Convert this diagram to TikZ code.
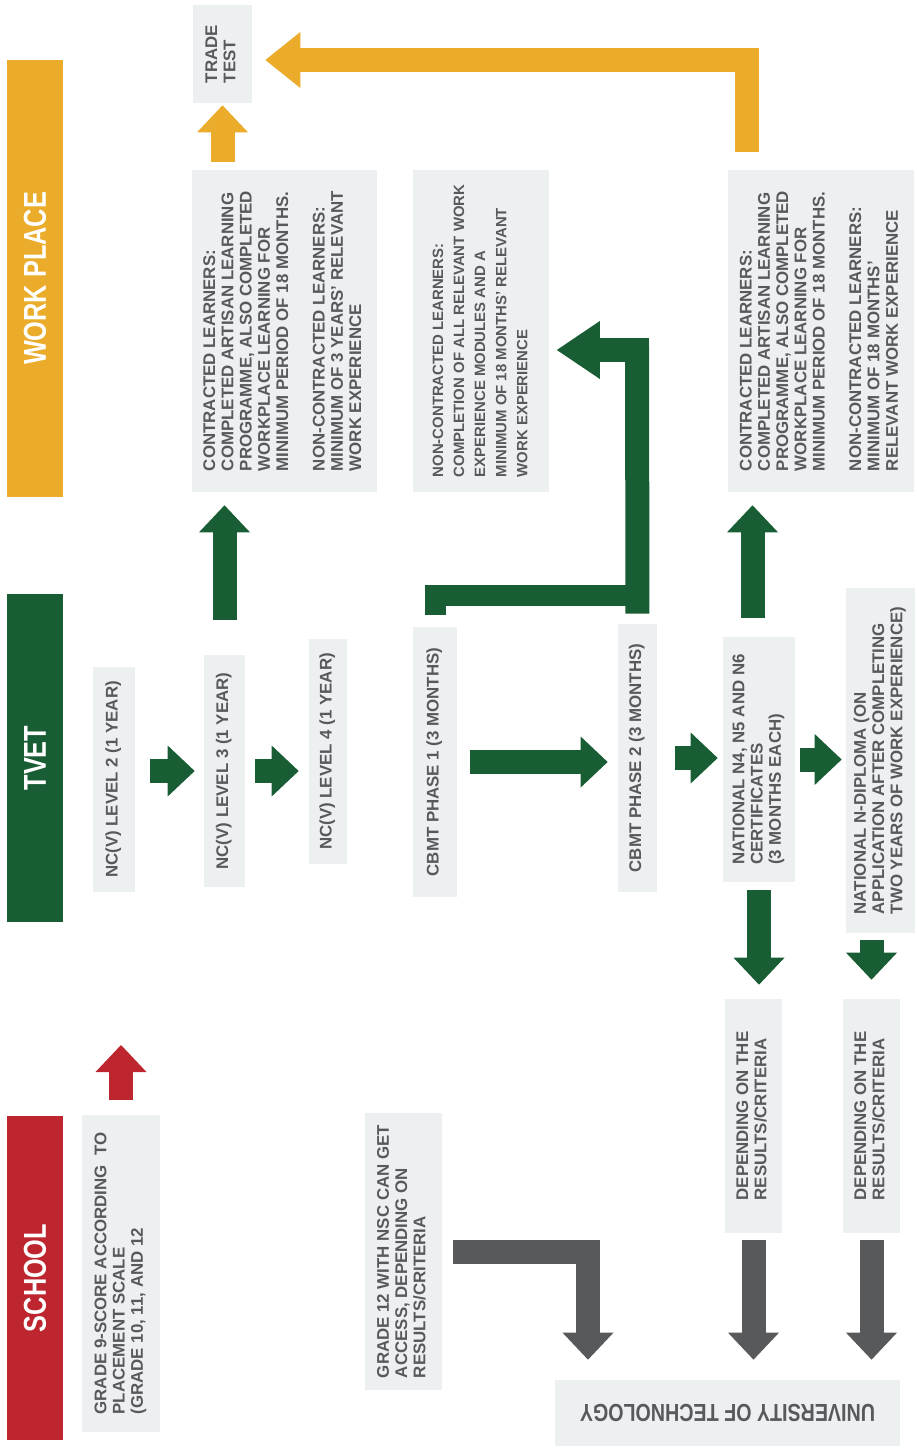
\documentclass[tikz,border=0pt]{standalone}
\usepackage{fontspec}
\setmainfont{Liberation Sans}
\newfontfamily\narrowfont{Liberation Sans}[FakeStretch=0.8]
\usetikzlibrary{arrows.meta}
\definecolor{wpyellow}{HTML}{EAAC2A}
\definecolor{tvetgreen}{HTML}{185D34}
\definecolor{schoolred}{HTML}{BD262E}
\definecolor{boxgray}{HTML}{EDF0F1}
\definecolor{inkgray}{HTML}{58595B}
\newcommand{\vtext}[1]{\rotatebox{90}{\begin{tabular}{@{}l@{}}#1\end{tabular}}}

\begin{document}
\begin{tikzpicture}[x=0.02cm, y=-0.02cm,
banner/.style={fill=#1, text=white, inner sep=0pt, minimum width=1.12cm,
  font=\narrowfont\bfseries\fontsize{18}{20}\selectfont},
infobox/.style={fill=boxgray, text=inkgray, inner sep=0pt,
  font=\bfseries\fontsize{9.6}{10.4}\selectfont},
blockarrow/.style={draw=#1, line width=0.48cm,
  -{Triangle[width=1.02cm, length=0.54cm, line width=0pt]}},
blockline/.style={draw=#1, line width=0.42cm}]
\useasboundingbox (0,0) rectangle (916,1449);

% left column
\node[banner=wpyellow, minimum height=8.74cm] (wpbar) at (35,278.5) {\rotatebox{90}{WORK PLACE}};
\node[banner=tvetgreen, minimum height=6.56cm] (tvetbar) at (35,758) {\rotatebox{90}{TVET}};
\node[banner=schoolred, minimum height=6.48cm] (schoolbar) at (35,1278) {\rotatebox{90}{SCHOOL}};

% work place
\node[infobox, minimum width=1.18cm, minimum height=1.96cm] (trade) at (222.5,54) {\vtext{TRADE\\TEST}};
\node[infobox, minimum width=3.70cm, minimum height=6.44cm] (wp1) at (284.5,331) {\vtext{CONTRACTED LEARNERS:\\
  COMPLETED ARTISAN LEARNING\\PROGRAMME, ALSO COMPLETED\\WORKPLACE LEARNING FOR\\
  MINIMUM PERIOD OF 18 MONTHS.\\ \\NON-CONTRACTED LEARNERS:\\
  MINIMUM OF 3 YEARS' RELEVANT\\WORK EXPERIENCE}};
\node[infobox, minimum width=2.74cm, minimum height=6.44cm,
  font=\bfseries\fontsize{8.5}{12}\selectfont] (wp2) at (481,331) {\vtext{NON-CONTRACTED LEARNERS:\\
  COMPLETION OF ALL RELEVANT WORK\\EXPERIENCE MODULES AND A\\
  MINIMUM OF 18 MONTHS' RELEVANT\\WORK EXPERIENCE}};
\node[infobox, minimum width=3.74cm, minimum height=6.44cm] (wp3) at (821,331) {\vtext{CONTRACTED LEARNERS:\\
  COMPLETED ARTISAN LEARNING\\PROGRAMME, ALSO COMPLETED\\WORKPLACE LEARNING FOR\\
  MINIMUM PERIOD OF 18 MONTHS.\\ \\NON-CONTRACTED LEARNERS:\\
  MINIMUM OF 18 MONTHS'\\RELEVANT WORK EXPERIENCE}};

% tvet
\node[infobox, minimum width=0.84cm, minimum height=4.50cm] (ncv2) at (114,779.5) {\vtext{NC(V) LEVEL 2 (1 YEAR)}};
\node[infobox, minimum width=0.82cm, minimum height=4.64cm] (ncv3) at (224.5,771) {\vtext{NC(V) LEVEL 3 (1 YEAR)}};
\node[infobox, minimum width=0.76cm, minimum height=4.50cm] (ncv4) at (328,751.5) {\vtext{NC(V) LEVEL 4 (1 YEAR)}};
\node[infobox, minimum width=0.88cm, minimum height=5.40cm] (cbmt1) at (435,762) {\vtext{CBMT PHASE 1 (3 MONTHS)}};
\node[infobox, minimum width=0.78cm, minimum height=5.36cm] (cbmt2) at (637.5,758) {\vtext{CBMT PHASE 2 (3 MONTHS)}};
\node[infobox, minimum width=1.44cm, minimum height=4.90cm] (nat) at (759,759.5) {\vtext{NATIONAL N4, N5 AND N6\\
  CERTIFICATES\\(3 MONTHS EACH)}};
\node[infobox, minimum width=1.38cm, minimum height=6.90cm] (ndip) at (880.5,760.5) {\vtext{NATIONAL N-DIPLOMA (ON\\
  APPLICATION AFTER COMPLETING\\TWO YEARS OF WORK EXPERIENCE)}};

% school and university
\node[infobox, minimum width=1.14cm, minimum height=4.68cm] (dep1) at (753.5,1116) {\vtext{DEPENDING ON THE\\RESULTS/CRITERIA}};
\node[infobox, minimum width=1.14cm, minimum height=4.68cm] (dep2) at (871.5,1116) {\vtext{DEPENDING ON THE\\RESULTS/CRITERIA}};
\node[infobox, minimum width=1.56cm, minimum height=6.34cm] (school) at (121,1273.5) {\vtext{GRADE 9-SCORE ACCORDING\ \ TO\\
  PLACEMENT SCALE\\(GRADE 10, 11, AND 12}};
\node[infobox, minimum width=1.54cm, minimum height=5.54cm] (gr12) at (403.5,1251.5) {\vtext{GRADE 12 WITH NSC CAN GET\\
  ACCESS, DEPENDING ON\\RESULTS/CRITERIA}};
\node[infobox, minimum width=6.90cm, minimum height=1.32cm,
  font=\narrowfont\bfseries\fontsize{14}{16}\selectfont] (univ) at (727.5,1413) {\rotatebox{180}{UNIVERSITY OF TECHNOLOGY}};

\coordinate (redtip) at (121,1045);
\coordinate (ybend) at (747,60);
\coordinate (gbend) at (637,595);
\coordinate (gtop) at (637,350);
\coordinate (greybend) at (588,0);

% arrows
\draw[blockarrow=tvetgreen, shorten <=0.3cm, shorten >=0.18cm] (ncv2.east |- ncv3) -- (ncv3.west);
\draw[blockarrow=tvetgreen, shorten <=0.2cm, shorten >=0.2cm] (ncv3.east) -- (ncv3.east -| ncv4.west);
\draw[blockarrow=tvetgreen, shorten <=0.26cm, shorten >=0.2cm] (cbmt1.east) -- (cbmt1.east -| cbmt2.west);
\draw[blockarrow=tvetgreen, shorten <=0.36cm, shorten >=0.1cm] (cbmt2.east) -- (cbmt2.east -| nat.west);
\draw[blockarrow=tvetgreen, shorten <=0.1cm, shorten >=0.08cm] (nat.east) -- (nat.east -| ndip.west);
\draw[blockarrow=tvetgreen, shorten <=0.7cm, shorten >=0.26cm] (ncv3.north) -- (ncv3.north |- wp1.south);
\draw[blockarrow=tvetgreen, shorten <=0.38cm, shorten >=0.26cm] ([xshift=-0.13cm]nat.north) -- ([xshift=-0.13cm]nat.north |- wp3.south);
\draw[blockarrow=tvetgreen, shorten <=0.16cm, shorten >=0.28cm] (nat.south) -- (nat.south |- dep1.north);
\draw[blockarrow=tvetgreen, shorten <=0.14cm, shorten >=0.38cm] (dep2.north |- ndip.south) -- (dep2.north);
\draw[blockline=tvetgreen, shorten <=0.24cm] (cbmt1.north) |- (gbend);
\draw[blockarrow=tvetgreen, -{Triangle[width=1.16cm, length=0.86cm, line width=0pt]},
  shorten <=0.2cm, shorten >=0.14cm] (cbmt2.north) -- (gtop) -- (gtop -| wp2.east);
\draw[blockarrow=inkgray, shorten <=0.14cm, shorten >=0.4cm] (dep1.south) -- (dep1.south |- univ.north);
\draw[blockarrow=inkgray, shorten <=0.14cm, shorten >=0.4cm] (dep2.south) -- (dep2.south |- univ.north);
\draw[blockarrow=inkgray, shorten <=0.22cm, shorten >=0.4cm] (gr12.east) -| (univ.north -| greybend);
\draw[blockarrow=schoolred, shorten <=0.3cm] (school.north) -- (redtip);
\draw[blockarrow=wpyellow, shorten <=0.16cm, shorten >=0.04cm] (trade.south |- wp1.north) -- (trade.south);
\draw[blockarrow=wpyellow, -{Triangle[width=1.12cm, length=0.7cm, line width=0pt]},
  shorten <=0.36cm, shorten >=0.26cm] (wp3.north -| ybend) -- (ybend) -- (ybend -| trade.east);
\end{tikzpicture}
\end{document}
